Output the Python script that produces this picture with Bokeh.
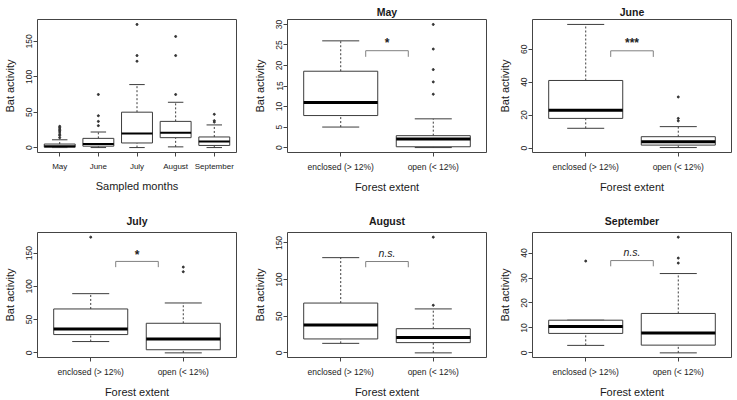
from bokeh.plotting import figure
from bokeh.layouts import gridplot
from bokeh.models import FixedTicker, Range1d
from bokeh.embed import file_html
from bokeh.resources import INLINE

FONT = "Liberation Sans"

MONTHS = ["May", "June", "July", "August", "September"]
GROUPS = ["enclosed (> 12%)", "open (< 12%)"]

# ---- Panel: all sites by sampled month ----
all_lo = [0, 0, 0, 1, 0]
all_q1 = [0.5, 2, 6.5, 14, 3]
all_med = [2, 5, 20, 21, 8.5]
all_q3 = [5, 13, 50, 37, 15]
all_hi = [11, 22, 89, 64, 32]
all_out = [[14, 17, 19, 22, 24, 26, 28, 30], [31, 37, 45, 75], [122, 130, 174], [75, 130, 157], [36, 38, 47]]
all_ticks = [0, 50, 100, 150]

# ---- Per month: [enclosed, open] ----
may_lo = [5, 0]
may_q1 = [7.8, 0.2]
may_med = [11, 2.1]
may_q3 = [18.6, 2.9]
may_hi = [26, 7]
may_out = [[], [13, 16, 19, 24, 30]]
may_ticks = [0, 5, 10, 15, 20, 25, 30]

jun_lo = [12, 0.3]
jun_q1 = [18, 1.8]
jun_med = [23, 3.8]
jun_q3 = [41, 6.9]
jun_hi = [75, 13]
jun_out = [[], [16.5, 18, 31]]
jun_ticks = [0, 20, 40, 60]

jul_lo = [17, 0]
jul_q1 = [27.5, 4.7]
jul_med = [36, 21]
jul_q3 = [66, 44.5]
jul_hi = [89, 75]
jul_out = [[174], [122, 129]]
jul_ticks = [0, 50, 100, 150]

aug_lo = [13, 0]
aug_q1 = [19, 14]
aug_med = [38, 21]
aug_q3 = [68, 33]
aug_hi = [130, 60]
aug_out = [[], [65, 158]]
aug_ticks = [0, 50, 100, 150]

sep_lo = [3, 0]
sep_q1 = [7.8, 3.1]
sep_med = [10.6, 8]
sep_q3 = [13.1, 15.8]
sep_hi = [13.1, 31.8]
sep_out = [[36.8], [36, 38, 46.4]]
sep_ticks = [0, 10, 20, 30, 40]

sig_label = ["*", "***", "*", "n.s.", "n.s."]
sig_height = [23.6, 59, 137.5, 124.7, 37]

BOX_C = "#3c3c3c"
FRAME_C = "#444444"
TEXT_C = "#1a1a1a"


def make_panel(cats, lo, q1, med, q3, hi, outs, ticks, title, xlabel,
               width, height, borders, med_w=3, sig=None, title_standoff=3, xtick_size="8.5px"):
    n = len(cats)
    xs = list(range(1, n + 1))
    vals = lo + hi + [v for o in outs for v in o]
    ymin, ymax = min(vals), max(vals)
    pad = 0.04 * (ymax - ymin)
    p = figure(width=width, height=height, output_backend="svg", toolbar_location=None,
               x_range=Range1d(1 - 0.575, n + 0.575), y_range=Range1d(ymin - pad, ymax + pad),
               min_border_left=borders[0], min_border_right=borders[1],
               min_border_top=borders[2], min_border_bottom=borders[3])
    p.grid.visible = False
    p.outline_line_color = FRAME_C
    p.outline_line_width = 1
    p.background_fill_color = "white"
    p.border_fill_color = "white"
    if title:
        p.title.text = title
        p.title.align = "center"
        p.title.text_font = FONT
        p.title.text_font_size = "10.5px"
        p.title.text_font_style = "bold"
        p.title.text_color = TEXT_C
        p.title.standoff = title_standoff

    bw = 0.4
    sw = 0.2
    left = [x - bw for x in xs]
    right = [x + bw for x in xs]
    # whiskers (dashed)
    p.segment(x0=xs, y0=q3, x1=xs, y1=hi, line_color=BOX_C, line_width=1, line_dash="2 2")
    p.segment(x0=xs, y0=lo, x1=xs, y1=q1, line_color=BOX_C, line_width=1, line_dash="2 2")
    # staples
    p.segment(x0=[x - sw for x in xs], y0=hi, x1=[x + sw for x in xs], y1=hi, line_color=BOX_C, line_width=1)
    p.segment(x0=[x - sw for x in xs], y0=lo, x1=[x + sw for x in xs], y1=lo, line_color=BOX_C, line_width=1)
    # boxes
    p.quad(left=left, right=right, bottom=q1, top=q3, fill_color="white", line_color=BOX_C, line_width=1)
    # medians
    p.segment(x0=left, y0=med, x1=right, y1=med, line_color="black", line_width=med_w)
    # outliers
    ox = [xs[i] for i, o in enumerate(outs) for _ in o]
    oy = [v for o in outs for v in o]
    p.scatter(x=ox, y=oy, size=2, color="#333333")

    rng = (ymax + pad) - (ymin - pad)
    if sig is not None:
        lab, yb = sig
        drop = 0.046 * rng
        p.line(x=[1.27, 1.27, 1.73, 1.73], y=[yb - drop, yb, yb, yb - drop], line_color="#808080", line_width=1)
        italic = lab.startswith("n")
        off = 0.07 * rng if italic else 0.055 * rng
        p.text(x=[1.5], y=[yb + off], text=[lab], text_align="center", text_baseline="middle",
               text_font_size="10.5px" if italic else "12px",
               text_font_style="italic" if italic else "bold",
               text_color="#222222", text_font={"value": FONT})

    p.xaxis.ticker = FixedTicker(ticks=xs)
    p.xaxis.major_label_overrides = {x: c for x, c in zip(xs, cats)}
    p.yaxis.ticker = FixedTicker(ticks=ticks)
    p.yaxis.major_label_orientation = "vertical"
    for ax in (p.xaxis[0], p.yaxis[0]):
        ax.axis_line_color = None
        ax.major_tick_out = 4
        ax.major_tick_in = 0
        ax.minor_tick_out = 0
        ax.minor_tick_in = 0
        ax.major_tick_line_color = FRAME_C
        ax.major_label_text_font = FONT
        ax.major_label_text_color = "#222222"
        ax.axis_label_text_font = FONT
        ax.axis_label_text_font_size = "11px"
        ax.axis_label_text_font_style = "normal"
        ax.axis_label_text_color = TEXT_C
    p.xaxis.major_label_text_font_size = xtick_size
    p.yaxis.major_label_text_font_size = "8.5px"
    p.xaxis.major_label_standoff = 5
    p.xaxis.axis_label_standoff = 6
    p.yaxis.major_label_standoff = 1
    p.yaxis.axis_label_standoff = 8
    p.xaxis.axis_label = xlabel
    p.yaxis.axis_label = "Bat activity"
    return p


p1 = make_panel(MONTHS, all_lo, all_q1, all_med, all_q3, all_hi, all_out, all_ticks, None,
                "Sampled months", 245, 200, (37, 4, 19, 48), med_w=2, xtick_size="8px")
p2 = make_panel(GROUPS, may_lo, may_q1, may_med, may_q3, may_hi, may_out, may_ticks, "May",
                "Forest extent", 245, 200, (37, 4, 19, 48), sig=(sig_label[0], sig_height[0]))
p3 = make_panel(GROUPS, jun_lo, jun_q1, jun_med, jun_q3, jun_hi, jun_out, jun_ticks, "June",
                "Forest extent", 247, 200, (40, 6, 19, 48), sig=(sig_label[1], sig_height[1]))
p4 = make_panel(GROUPS, jul_lo, jul_q1, jul_med, jul_q3, jul_hi, jul_out, jul_ticks, "July",
                "Forest extent", 245, 200, (36, 9, 32, 39), sig=(sig_label[2], sig_height[2]), title_standoff=11)
p5 = make_panel(GROUPS, aug_lo, aug_q1, aug_med, aug_q3, aug_hi, aug_out, aug_ticks, "August",
                "Forest extent", 245, 200, (42, 4, 32, 39), sig=(sig_label[3], sig_height[3]), title_standoff=11)
p6 = make_panel(GROUPS, sep_lo, sep_q1, sep_med, sep_q3, sep_hi, sep_out, sep_ticks, "September",
                "Forest extent", 247, 200, (42, 6, 32, 39), sig=(sig_label[4], sig_height[4]), title_standoff=11)

grid = gridplot([[p1, p2, p3], [p4, p5, p6]], toolbar_location=None)

open("out.html", "w").write(file_html(grid, INLINE))
